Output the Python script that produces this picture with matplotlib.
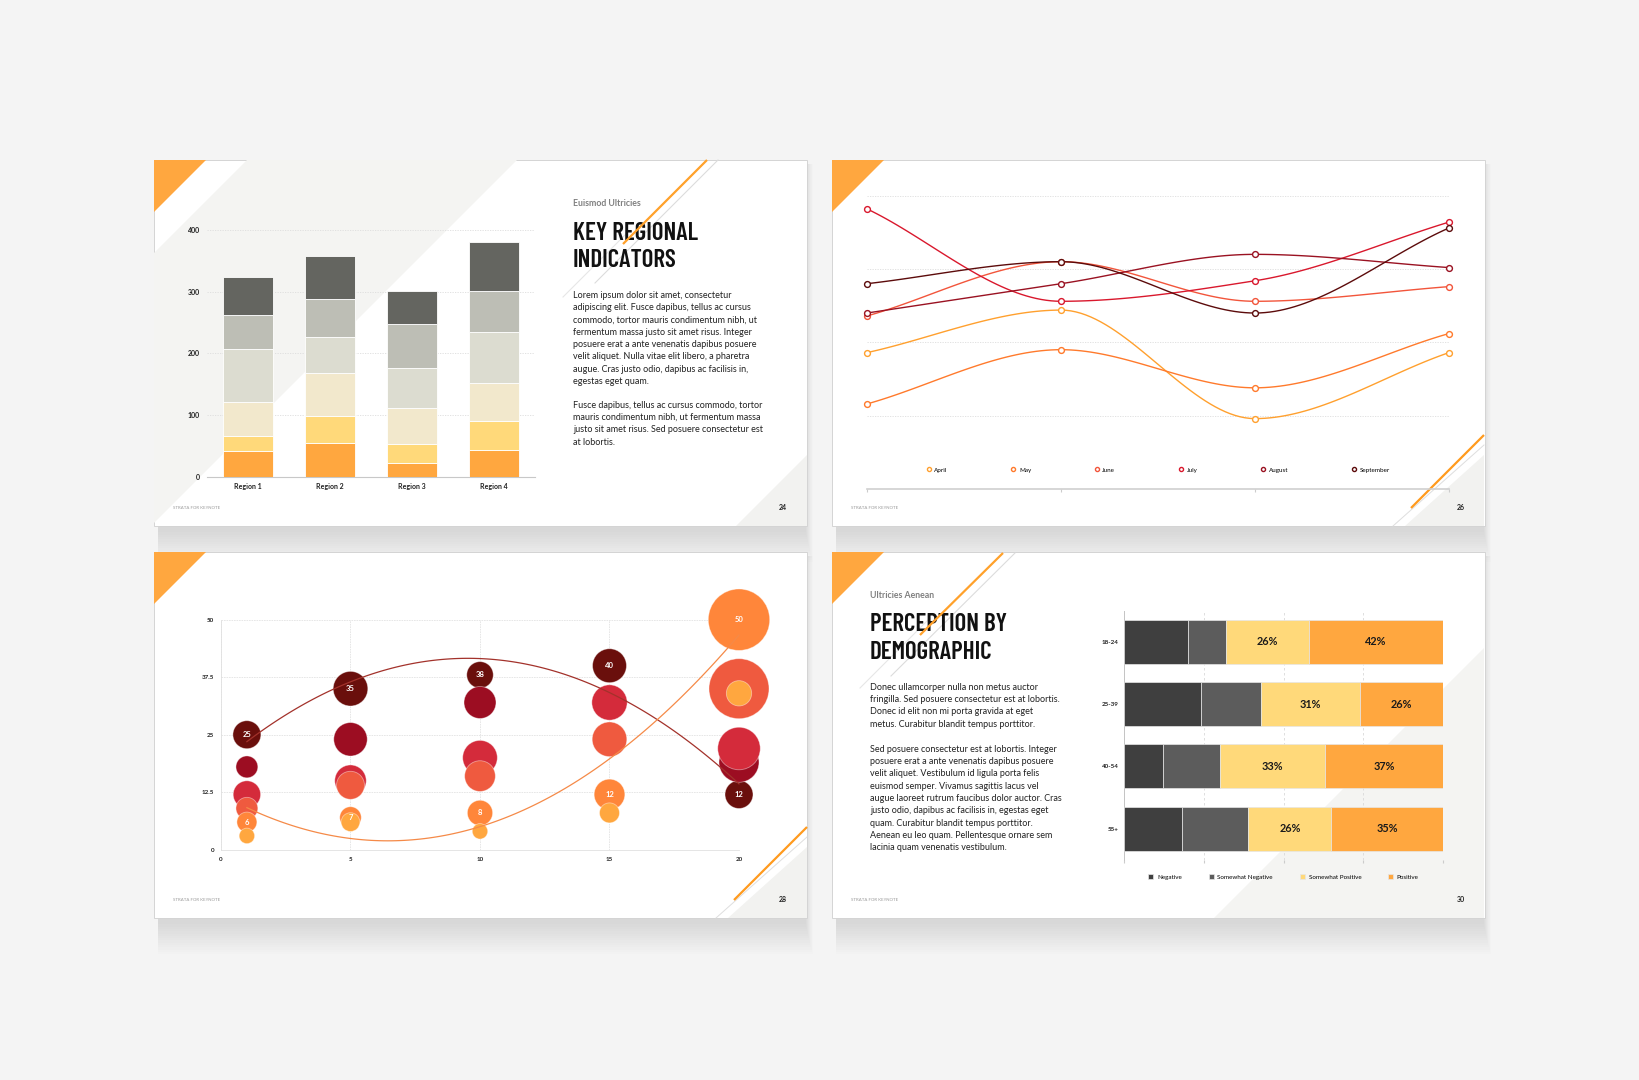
import numpy as np
import matplotlib
matplotlib.use("Agg")
import matplotlib.pyplot as plt
import matplotlib.font_manager as fm
from matplotlib.patches import Rectangle, Polygon

W, H = 1640, 1080
SLIDE_W, SLIDE_H = 653, 366

# Key Regional Indicators (stacked columns)
regions = ["Region 1", "Region 2", "Region 3", "Region 4"]
stack_a = [42, 55, 22, 43]
stack_b = [25, 43, 32, 47]
stack_c = [55, 70, 58, 63]
stack_d = [85, 58, 64, 82]
stack_e = [55, 63, 72, 67]
stack_f = [62, 69, 53, 79]
stack_colors = ["#FFA73F", "#FFD97A", "#F2E8CC", "#DCDCD0", "#BDBEB5", "#646560"]

# Monthly lines
months = ["April", "May", "June", "July", "August", "September"]
line_x = [0, 1, 2, 3]
april = [46.5, 61, 24, 46.5]
may = [29, 47.5, 34.5, 53]
june = [59, 77.5, 64, 69]
july = [95.5, 64, 71, 91]
august = [60, 70, 80, 75.5]
september = [70, 77.5, 60, 89]
month_colors = ["#FFA02E", "#FF7A2C", "#F2553B", "#D9182D", "#9A1222", "#5C0B0B"]

# Bubbles: y values and bubble weights per series
bubble_x = [1, 5, 10, 15, 20]
bub_darkest = [25, 35, 38, 40, 12]
bub_darkred = [18, 24, 32, 32, 19]
bub_red = [12, 15, 20, 32, 22]
bub_tomato = [9, 14, 16, 24, 35]
bub_orange = [6, 7, 8, 12, 50]
bub_light = [3, 6, 4, 8, 34]
w_darkest = [49, 75, 44, 72, 49]
w_darkred = [30, 70, 64, 56, 100]
w_red = [47, 62, 75, 78, 113]
w_tomato = [30, 49, 59, 75, 225]
w_orange = [25, 29, 40, 59, 236]
w_light = [15, 22, 15, 25, 40]
bubble_colors = ["#6A0F0C", "#9C0D22", "#D42B3B", "#EF5A3F", "#FF863A", "#FFA73F"]

# Perception by demographic
age_groups = ["18-24", "25-39", "40-54", "55+"]
negative = [20, 24, 12, 18]
somewhat_negative = [12, 19, 18, 21]
somewhat_positive = [26, 31, 33, 26]
positive = [42, 26, 37, 35]
perception_labels = ["Negative", "Somewhat Negative", "Somewhat Positive", "Positive"]
perception_colors = ["#3F3F3F", "#5C5C5C", "#FFD97A", "#FFA73F"]

para_1a = [
    "Lorem ipsum dolor sit amet, consectetur",
    "adipiscing elit. Fusce dapibus, tellus ac cursus",
    "commodo, tortor mauris condimentum nibh, ut",
    "fermentum massa justo sit amet risus. Integer",
    "posuere erat a ante venenatis dapibus posuere",
    "velit aliquet. Nulla vitae elit libero, a pharetra",
    "augue. Cras justo odio, dapibus ac facilisis in,",
    "egestas eget quam.",
]
para_1b = [
    "Fusce dapibus, tellus ac cursus commodo, tortor",
    "mauris condimentum nibh, ut fermentum massa",
    "justo sit amet risus. Sed posuere consectetur est",
    "at lobortis.",
]
para_4a = [
    "Donec ullamcorper nulla non metus auctor",
    "fringilla. Sed posuere consectetur est at lobortis.",
    "Donec id elit non mi porta gravida at eget",
    "metus. Curabitur blandit tempus porttitor.",
]
para_4b = [
    "Sed posuere consectetur est at lobortis. Integer",
    "posuere erat a ante venenatis dapibus posuere",
    "velit aliquet. Vestibulum id ligula porta felis",
    "euismod semper. Vivamus sagittis lacus vel",
    "augue laoreet rutrum faucibus dolor auctor. Cras",
    "justo odio, dapibus ac facilisis in, egestas eget",
    "quam. Curabitur blandit tempus porttitor.",
    "Aenean eu leo quam. Pellentesque ornare sem",
    "lacinia quam venenatis vestibulum.",
]

plt.rcParams["font.family"] = ["Lato", "DejaVu Sans"]


def find_font(candidates):
    """Return the file of the first installed (family, weight) pair."""
    for name, weight in candidates:
        for f in fm.fontManager.ttflist:
            if f.name == name and f.style == "normal" and f.weight == weight:
                return f.fname
    return None


title_path = find_font([("Barlow Condensed", 600), ("Barlow Condensed", 700),
                        ("Roboto Condensed", 700), ("Archivo Narrow", 700),
                        ("PT Sans Narrow", 700)])
if title_path:
    title_font = fm.FontProperties(fname=title_path, size=18)
else:
    title_font = fm.FontProperties(family=["Roboto", "DejaVu Sans"], weight="bold", size=13)


def px_axes(fig, x0, y0, x1, y1):
    return fig.add_axes([x0 / W, 1 - y1 / H, (x1 - x0) / W, (y1 - y0) / H])


def smooth_curve(xs, ys, n=40):
    # monotone cubic hermite through the points (drawing only)
    xs = np.asarray(xs, float)
    ys = np.asarray(ys, float)
    h = np.diff(xs)
    d = np.diff(ys) / h
    m = np.empty_like(ys)
    m[0], m[-1] = d[0], d[-1]
    for i in range(1, len(ys) - 1):
        if d[i - 1] * d[i] <= 0:
            m[i] = 0
        else:
            m[i] = 2 / (1 / d[i - 1] + 1 / d[i])
    px, py = [], []
    t = np.linspace(0, 1, n)
    for i in range(len(h)):
        h00 = 2 * t**3 - 3 * t**2 + 1
        h10 = t**3 - 2 * t**2 + t
        h01 = -2 * t**3 + 3 * t**2
        h11 = t**3 - t**2
        py.append(h00 * ys[i] + h10 * h[i] * m[i] + h01 * ys[i + 1] + h11 * h[i] * m[i + 1])
        px.append(xs[i] + t * h[i])
    return np.concatenate(px), np.concatenate(py)


def draw_slide(bg, x0, y0, page):
    # soft drop shadow
    for k in range(1, 15):
        bg.add_patch(Rectangle((x0 + 4, y0 + 4), SLIDE_W + k * 0.55 - 6, SLIDE_H + k * 2.3,
                               facecolor="black", edgecolor="none", alpha=0.0075, zorder=1))
    bg.add_patch(Rectangle((x0, y0), SLIDE_W, SLIDE_H, facecolor="white",
                           edgecolor="#d4d4d4", linewidth=0.7, zorder=2))
    bg.add_patch(Polygon([(x0, y0), (x0 + 52, y0), (x0, y0 + 52)],
                         closed=True, facecolor="#FFA73F", edgecolor="none", zorder=4))
    bg.text(x0 + 19, y0 + 348, "STRATA FOR KEYNOTE", fontsize=3.2, color="#9a9a9a",
            va="center", ha="left", zorder=6)
    bg.text(x0 + 629, y0 + 348, page, fontsize=5, fontweight="bold", color="#222222",
            va="center", ha="center", zorder=6)


def corner_lines(bg, xr, yb, with_orange=True):
    bg.add_patch(Polygon([(xr, yb - 71), (xr, yb), (xr - 79, yb)], closed=True,
                         facecolor="#F2F2F0", edgecolor="none", zorder=3))
    bg.plot([xr, xr - 91], [yb - 81, yb], color="#dedede", lw=0.7, zorder=4)
    if with_orange:
        bg.plot([xr, xr - 73], [yb - 91, yb - 18], color="#FF9A1E", lw=1.6,
                solid_capstyle="butt", zorder=5)


def draw_paragraph(bg, x, y, lines, step=12.35):
    for i, line in enumerate(lines):
        bg.text(x, y + i * step, line, fontsize=6.5, color="#222222",
                va="center", ha="left", zorder=6)


fig = plt.figure(figsize=(W / 100, H / 100), dpi=100, facecolor="#F4F4F4")
bg = fig.add_axes([0, 0, 1, 1])
bg.set_xlim(0, W)
bg.set_ylim(H, 0)
bg.axis("off")

# ---------------- slide 24 ----------------
sx, sy = 154, 160
draw_slide(bg, sx, sy, "24")
bg.add_patch(Polygon([(sx + 93, sy), (sx + 363, sy), (sx, sy + 363), (sx, sy + 93)],
                     closed=True, facecolor="#F4F4F2", edgecolor="none", zorder=3))
bg.add_patch(Polygon([(807, 455), (807, 526), (736, 526)], closed=True,
                     facecolor="#F2F2F0", edgecolor="none", zorder=3))
bg.plot([718, 595], [160, 283], color="#dcdcdc", lw=0.8, zorder=4)
bg.plot([627, 563], [233, 297], color="#e6e6e6", lw=0.8, zorder=4)
bg.text(573, 203, "Euismod Ultricies", fontsize=6.3, fontweight="bold", color="#808080",
        va="center", zorder=6)
bg.text(573, 240, "KEY REGIONAL", fontproperties=title_font, color="#111111",
        va="baseline", zorder=6)
bg.text(573, 267, "INDICATORS", fontproperties=title_font, color="#111111",
        va="baseline", zorder=6)
bg.plot([707, 623], [160, 244], color="#FFA12B", lw=1.6, solid_capstyle="butt", zorder=7)
draw_paragraph(bg, 573, 295, para_1a)
draw_paragraph(bg, 573, 405, para_1b)

ax1 = px_axes(fig, 207, 230, 535, 477)
ax1.patch.set_alpha(0)
xpos = np.arange(len(regions))
bottom = np.zeros(len(regions))
for vals, col in zip([stack_a, stack_b, stack_c, stack_d, stack_e, stack_f], stack_colors):
    ax1.bar(xpos, vals, 0.61, bottom=bottom, color=col, edgecolor="white",
            linewidth=0.6, zorder=3)
    bottom += np.array(vals)
ax1.set_xlim(-0.5, 3.5)
ax1.set_ylim(0, 400)
ax1.set_yticks([0, 100, 200, 300, 400])
ax1.set_xticks(xpos)
ax1.set_xticklabels(regions)
ax1.tick_params(length=0, labelsize=5, labelcolor="#222222")
ax1.tick_params(axis="y", pad=5)
ax1.tick_params(axis="x", pad=4)
for lab in ax1.get_xticklabels() + ax1.get_yticklabels():
    lab.set_fontweight("bold")
ax1.grid(axis="y", color="#dddddd", linewidth=0.6, linestyle=(0, (1.5, 1.5)), zorder=0)
for side in ["top", "right", "left"]:
    ax1.spines[side].set_visible(False)
ax1.spines["bottom"].set_color("#c8c8c8")
ax1.spines["bottom"].set_linewidth(0.8)

# ---------------- slide 26 ----------------
sx, sy = 832, 160
draw_slide(bg, sx, sy, "26")
corner_lines(bg, 1484, 526)

ax2 = px_axes(fig, 867, 195.7, 1449, 489)
ax2.patch.set_alpha(0)
for name, vals, col in zip(months, [april, may, june, july, august, september], month_colors):
    cx, cy = smooth_curve(line_x, vals)
    ax2.plot(cx, cy, color=col, lw=1.0, zorder=3, clip_on=False)
    ax2.plot(line_x, vals, linestyle="none", marker="o", markersize=4.2,
             markerfacecolor="white", markeredgecolor=col, markeredgewidth=1.0,
             zorder=4, clip_on=False, label=name)
ax2.set_xlim(0, 3)
ax2.set_ylim(0, 100)
ax2.set_yticks([25, 50, 75, 100])
ax2.set_xticks(line_x)
ax2.tick_params(axis="y", length=0, labelleft=False)
ax2.tick_params(axis="x", length=2, color="#cccccc", labelbottom=False)
ax2.grid(axis="y", color="#dddddd", linewidth=0.6, linestyle=(0, (1.5, 1.5)), zorder=0)
for side in ["top", "right", "left"]:
    ax2.spines[side].set_visible(False)
ax2.spines["bottom"].set_color("#cfcfcf")
ax2.spines["bottom"].set_linewidth(1.2)
ax2.legend(loc="center", bbox_to_anchor=(0.5, 0.065), ncol=6, frameon=False,
           fontsize=4.5, handlelength=0.8, handletextpad=0.5, columnspacing=10.1,
           markerscale=0.7)

# ---------------- slide 28 ----------------
sx, sy = 154, 552
draw_slide(bg, sx, sy, "28")
corner_lines(bg, 807, 918)

ax3 = px_axes(fig, 221, 619.7, 739, 849.7)
ax3.patch.set_alpha(0)
series_y = [bub_darkest, bub_darkred, bub_red, bub_tomato, bub_orange, bub_light]
series_w = [w_darkest, w_darkred, w_red, w_tomato, w_orange, w_light]
for ys, ws, col in zip(series_y, series_w, bubble_colors):
    ax3.scatter(bubble_x, ys, s=np.array(ws) * 8.3, color=col,
                edgecolors=(1, 1, 1, 0.45), linewidths=0.6, zorder=3, clip_on=False)
xx = np.linspace(bubble_x[0], bubble_x[-1], 120)
trend_dark = np.polyfit(bubble_x, bub_darkest, 2)
trend_orange = np.polyfit(bubble_x, bub_orange, 2)
ax3.plot(xx, np.polyval(trend_dark, xx), color="#A3322B", lw=0.9, zorder=4, clip_on=False)
ax3.plot(xx, np.polyval(trend_orange, xx), color="#F58A48", lw=0.9, zorder=4, clip_on=False)
for ys in [bub_darkest, bub_orange]:
    for x, y in zip(bubble_x, ys):
        ax3.text(x, y, str(y), color="white", fontsize=5.5, fontweight="bold",
                 ha="center", va="center", zorder=5)
ax3.set_xlim(0, 20)
ax3.set_ylim(0, 50)
ax3.set_xticks([0, 5, 10, 15, 20])
ax3.set_yticks([0, 12.5, 25, 37.5, 50])
ax3.set_yticklabels(["0", "12.5", "25", "37.5", "50"])
ax3.tick_params(length=0, labelsize=4.5, labelcolor="#222222")
ax3.tick_params(axis="y", pad=5)
ax3.tick_params(axis="x", pad=5)
for lab in ax3.get_xticklabels() + ax3.get_yticklabels():
    lab.set_fontweight("bold")
ax3.grid(color="#e3e3e3", linewidth=0.6, linestyle=(0, (2, 1)), zorder=0)
for side in ["top", "right"]:
    ax3.spines[side].set_visible(False)
for side in ["left", "bottom"]:
    ax3.spines[side].set_color("#e0e0e0")
    ax3.spines[side].set_linewidth(0.6)

# ---------------- slide 30 ----------------
sx, sy = 832, 552
draw_slide(bg, sx, sy, "30")
bg.add_patch(Polygon([(1484, 648), (1484, 918), (1214, 918)], closed=True,
                     facecolor="#F4F4F2", edgecolor="none", zorder=3))
bg.plot([1015, 891], [553, 676], color="#dcdcdc", lw=0.8, zorder=4)
bg.plot([930, 860], [618, 688], color="#e6e6e6", lw=0.8, zorder=4)
bg.text(870, 595, "Ultricies Aenean", fontsize=6.3, fontweight="bold", color="#808080",
        va="center", zorder=6)
bg.text(870, 631, "PERCEPTION BY", fontproperties=title_font, color="#111111",
        va="baseline", zorder=6)
bg.text(870, 659, "DEMOGRAPHIC", fontproperties=title_font, color="#111111",
        va="baseline", zorder=6)
bg.plot([1003, 920], [553, 635], color="#FFA12B", lw=1.6, solid_capstyle="butt", zorder=7)
draw_paragraph(bg, 870, 687.3, para_4a)
draw_paragraph(bg, 870, 749, para_4b)

ax4 = px_axes(fig, 1124.3, 610.6, 1442.7, 859.8)
ax4.patch.set_alpha(0)
ypos = np.arange(len(age_groups))
left = np.zeros(len(age_groups))
for vals, col, lab in zip([negative, somewhat_negative, somewhat_positive, positive],
                          perception_colors, perception_labels):
    ax4.barh(ypos, vals, 0.707, left=left, color=col, edgecolor="#e6e6e6",
             linewidth=0.5, zorder=3, label=lab)
    if lab in ("Somewhat Positive", "Positive"):
        for yy, v, l0 in zip(ypos, vals, left):
            ax4.text(l0 + v / 2, yy, f"{v}%", fontsize=7.8, fontweight="bold",
                     color="#1a1a1a", ha="center", va="center", zorder=4)
    left += np.array(vals)
ax4.set_xlim(0, 100)
ax4.set_ylim(3.5, -0.5)
ax4.set_yticks(ypos)
ax4.set_yticklabels(age_groups)
ax4.set_xticks([0, 25, 50, 75, 100])
ax4.tick_params(axis="y", length=0, labelsize=4.5, labelcolor="#222222", pad=4)
ax4.tick_params(axis="x", length=2, color="#cccccc", labelbottom=False)
for lab in ax4.get_yticklabels():
    lab.set_fontweight("bold")
ax4.grid(axis="x", color="#d9d9d9", linewidth=0.6, linestyle=(0, (3, 3)), zorder=0)
for side in ["top", "right", "bottom"]:
    ax4.spines[side].set_visible(False)
ax4.spines["left"].set_color("#c4c4c4")
ax4.spines["left"].set_linewidth(0.7)
ax4.legend(loc="center", bbox_to_anchor=(0.5, -0.07), ncol=4, frameon=False,
           fontsize=4.5, handlelength=0.8, handleheight=0.8, handletextpad=0.6,
           columnspacing=4.3)

fig.savefig("out.png", dpi=100, facecolor=fig.get_facecolor())
